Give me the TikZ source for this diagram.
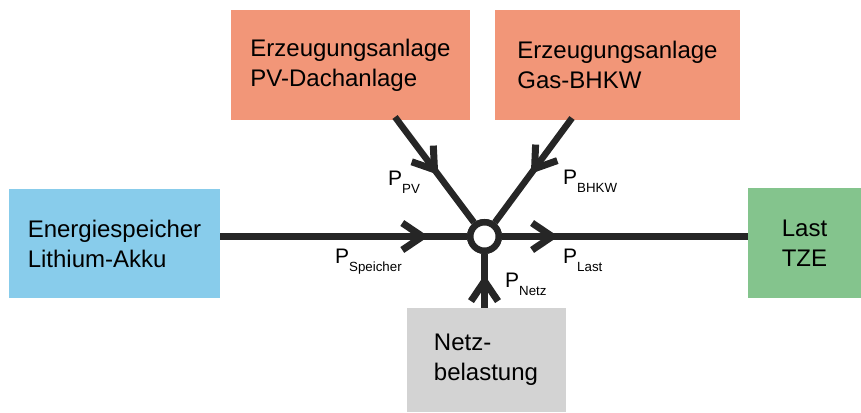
\documentclass[tikz,border=0pt]{standalone}
\usepackage{fontspec}
\setmainfont{Liberation Sans}
\usetikzlibrary{decorations.markings}
\definecolor{orangebox}{RGB}{242,150,120}
\definecolor{bluebox}{RGB}{136,204,235}
\definecolor{greenbox}{RGB}{132,196,141}
\definecolor{graybox}{RGB}{211,211,211}
\definecolor{linecol}{RGB}{38,38,38}
\tikzset{
  box/.style={rectangle, inner sep=0pt, align=left, text=black,
    font=\fontsize{24}{30}\selectfont},
  flow/.style={draw=linecol, line width=6.5pt,
    postaction={decorate, decoration={markings,
      mark=at position #1 with {\draw[linecol, line width=7pt, line join=miter, line cap=butt] (-24pt,13.5pt) -- (-4pt,0pt) -- (-24pt,-13.5pt);}}}},
  plabel/.style={anchor=base west, inner sep=0pt, text=black, font=\fontsize{21}{21}\selectfont},
  knot/.style={circle, draw=linecol, fill=white, line width=6.5pt, minimum size=28.5pt, inner sep=0pt}
}
\newcommand{\psub}[1]{\raisebox{-8pt}{\fontsize{13.3}{13.3}\selectfont #1}}
\begin{document}
\begin{tikzpicture}[x=1pt,y=-1pt]
\useasboundingbox (0,0) rectangle (861,412);
% boxes
\node[box, fill=orangebox, minimum width=239pt, minimum height=110pt] (pv) at (350.5,65) {Erzeugungsanlage\\PV-Dachanlage};
\node[box, fill=orangebox, minimum width=245pt, minimum height=110pt] (gas) at (617.5,65) {Erzeugungsanlage\\Gas-BHKW};
\node[box, fill=bluebox, minimum width=211pt, minimum height=109pt] (akku) at (114.5,243.5) {Energiespeicher\\Lithium-Akku};
\node[box, fill=greenbox, minimum width=113pt, minimum height=110pt] (last) at (804.5,243) {Last\\TZE};
\node[box, fill=graybox, minimum width=159pt, minimum height=104pt] (netz) at (486,360) {Netz-\\belastung};
% knot
\node[knot] (c) at (484.5,236.5) {};
\coordinate (pvout) at (395,117);
\coordinate (gasout) at (572,118);
% connectors
\draw[flow=0.835] (c -| akku.east) -- (c.west);
\draw[flow=0.22] (c.east) -- (c -| last.west);
\draw[flow=0.53] (pvout) -- (c);
\draw[flow=0.516] (gasout) -- (c);
\draw[flow=0.57] (c |- netz.north) -- (c.south);
\node[knot] at (c) {};
% labels
\node[plabel] (lpv) at (388,185) {P\psub{PV}};
\node[plabel] (lbhkw) at (563,184) {P\psub{BHKW}};
\node[plabel] (lsp) at (335,263) {P\psub{Speicher}};
\node[plabel] (llast) at (563,263) {P\psub{Last}};
\node[plabel] (lnetz) at (505,287) {P\psub{Netz}};
\end{tikzpicture}
\end{document}
